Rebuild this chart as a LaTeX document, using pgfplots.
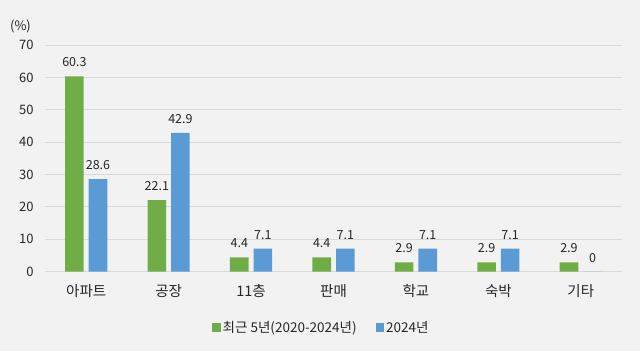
\documentclass[border=0pt]{standalone}
\usepackage{pgfplots}
\pgfplotsset{compat=1.18}
\usepackage{fontspec}
\setmainfont{Noto Sans CJK KR}
\definecolor{bg}{HTML}{F2F2F2}
\definecolor{gridc}{HTML}{D9D9D9}
\definecolor{gg}{HTML}{70AD47}
\definecolor{bb}{HTML}{5B9BD5}
\definecolor{txt}{HTML}{262626}
\begin{document}
\begin{tikzpicture}
\fill[bg] (-45pt,-79.3pt) rectangle (595pt,271.7pt);
\begin{axis}[
  at={(0pt,0pt)}, anchor=south west,
  scale only axis, width=577pt, height=226.7pt,
  xmin=-0.5, xmax=6.5, ymin=0, ymax=70,
  ytick={0,10,...,70},
  xtick={0,...,6},
  xticklabels={아파트,공장,11층,판매,학교,숙박,기타},
  ybar=5pt, bar width=18.6pt,
  axis line style={draw=none},
  major tick length=0pt,
  ymajorgrids, grid style={gridc, line width=0.9pt},
  /pgf/number format/assume math mode=true,
  yticklabel style={font=\fontsize{13}{14}\selectfont, text=txt, xshift=-8pt},
  xticklabel style={font=\fontsize{14.5}{15}\selectfont, text=txt, yshift=-9pt},
  nodes near coords,
  nodes near coords style={font=\fontsize{12.5}{13}\selectfont, text=txt, yshift=6pt},
  point meta=explicit symbolic,
  legend style={at={(0.479,-0.248)}, anchor=center, draw=none, fill=none,
    legend columns=2, font=\fontsize{13.5}{14}\selectfont, text=txt,
    /tikz/every even column/.append style={column sep=17pt}},
  legend image code/.code={\fill[#1] (0pt,-4pt) rectangle (8.5pt,4.5pt);},
  clip=false,
]
\addplot[fill=gg, draw=none] coordinates {
  (0,60.3) [60.3] (1,22.1) [22.1] (2,4.4) [4.4] (3,4.4) [4.4] (4,2.9) [2.9] (5,2.9) [2.9] (6,2.9) [2.9]};
\addplot[fill=bb, draw=none] coordinates {
  (0,28.6) [28.6] (1,42.9) [42.9] (2,7.1) [7.1] (3,7.1) [7.1] (4,7.1) [7.1] (5,7.1) [7.1] (6,0) [0]};
\legend{최근 5년(2020-2024년),2024년}
\node[font=\fontsize{13}{14}\selectfont, text=txt] at ([shift={(-24.5pt,19pt)}]rel axis cs:0,1) {(\%)};
\end{axis}
\end{tikzpicture}
\end{document}
